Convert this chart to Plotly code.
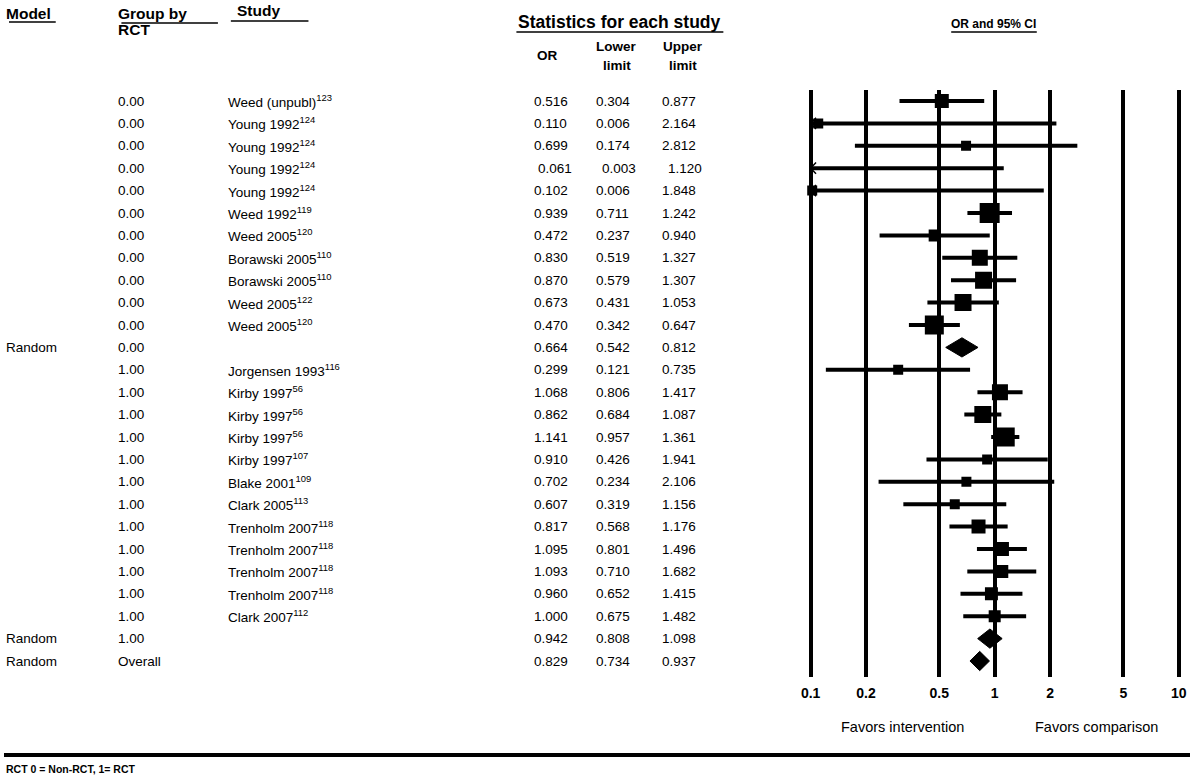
import plotly.graph_objects as go

W, H = 1192, 779

# ---------------- data ----------------
model = ["", "", "", "", "", "", "", "", "", "", "", "Random",
         "", "", "", "", "", "", "", "", "", "", "", "", "Random", "Random"]
group = ["0.00"] * 12 + ["1.00"] * 13 + ["Overall"]
study_name = ["Weed (unpubl)", "Young 1992", "Young 1992", "Young 1992", "Young 1992",
              "Weed 1992", "Weed 2005", "Borawski 2005", "Borawski 2005", "Weed 2005",
              "Weed 2005", "", "Jorgensen 1993", "Kirby 1997", "Kirby 1997", "Kirby 1997",
              "Kirby 1997", "Blake 2001", "Clark 2005", "Trenholm 2007", "Trenholm 2007",
              "Trenholm 2007", "Trenholm 2007", "Clark 2007", "", ""]
study_ref = ["123", "124", "124", "124", "124", "119", "120", "110", "110", "122",
             "120", "", "116", "56", "56", "56", "107", "109", "113", "118", "118",
             "118", "118", "112", "", ""]
odds_ratio = [0.516, 0.110, 0.699, 0.061, 0.102, 0.939, 0.472, 0.830, 0.870, 0.673,
              0.470, 0.664, 0.299, 1.068, 0.862, 1.141, 0.910, 0.702, 0.607, 0.817,
              1.095, 1.093, 0.960, 1.000, 0.942, 0.829]
lower_limit = [0.304, 0.006, 0.174, 0.003, 0.006, 0.711, 0.237, 0.519, 0.579, 0.431,
               0.342, 0.542, 0.121, 0.806, 0.684, 0.957, 0.426, 0.234, 0.319, 0.568,
               0.801, 0.710, 0.652, 0.675, 0.808, 0.734]
upper_limit = [0.877, 2.164, 2.812, 1.120, 1.848, 1.242, 0.940, 1.327, 1.307, 1.053,
               0.647, 0.812, 0.735, 1.417, 1.087, 1.361, 1.941, 2.106, 1.156, 1.176,
               1.496, 1.682, 1.415, 1.482, 1.098, 0.937]
is_summary = [False] * 11 + [True] + [False] * 12 + [True, True]
# relative study weights
rel_weight = [49, 25, 25, 25, 25, 100, 36, 64, 72, 72, 90, 0,
              25, 64, 72, 90, 25, 25, 25, 49, 49, 42, 42, 36, 0, 0]
tick_values = [0.1, 0.2, 0.5, 1, 2, 5, 10]
tick_labels = ["0.1", "0.2", "0.5", "1", "2", "5", "10"]

# ---------------- styles ----------------
FONT = "Liberation Sans, Arial, Helvetica, sans-serif"
n = len(odds_ratio)
rows = list(range(n))
ROW0_PX, ROW_STEP = 101, 22.4
PLOT_TOP, PLOT_BOT = 90, 677
XMIN_LOG, XMAX_LOG = -1.03, 1.03
DEC_PX = 185.0
x_left_px = 810.7 + (XMIN_LOG + 1) * DEC_PX
x_right_px = 1180.7 + (XMAX_LOG - 1) * DEC_PX
TXT = 13.5
PAD = 3  # annotation text starts this many px right of its anchor


def px(x):
    return x / W


def py(y):
    return 1 - y / H


y_top_val = (PLOT_TOP - ROW0_PX) / ROW_STEP
y_bot_val = (PLOT_BOT - ROW0_PX) / ROW_STEP

fig = go.Figure()

# CI lines (clipped at lowest tick)
xmin_clip = tick_values[0]
lx, ly = [], []
for i in rows:
    if is_summary[i]:
        continue
    lx += [max(lower_limit[i], xmin_clip), upper_limit[i], None]
    ly += [i, i, None]
fig.add_trace(go.Scatter(x=lx, y=ly, mode="lines", line=dict(color="black", width=4),
                         hoverinfo="skip", showlegend=False))

# arrow chevrons for truncated CIs
ax_, ay_ = [], []
for i in rows:
    if not is_summary[i] and lower_limit[i] < xmin_clip:
        ax_ += [xmin_clip * 1.07, xmin_clip, xmin_clip * 1.07, None]
        ay_ += [i - 0.25, i, i + 0.25, None]
fig.add_trace(go.Scatter(x=ax_, y=ay_, mode="lines", line=dict(color="black", width=1.5),
                         hoverinfo="skip", showlegend=False))

# study boxes
sx = [odds_ratio[i] for i in rows if not is_summary[i]]
sy = [i for i in rows if not is_summary[i]]
ss = [2 * rel_weight[i] ** 0.5 for i in rows if not is_summary[i]]
fig.add_trace(go.Scatter(x=sx, y=sy, mode="markers",
                         marker=dict(symbol="square", size=ss, color="black", opacity=1,
                                     line=dict(width=0)),
                         hoverinfo="skip", showlegend=False))

# summary diamonds
dx, dy = [], []
for i in rows:
    if is_summary[i]:
        h = 0.43
        dx += [lower_limit[i], odds_ratio[i], upper_limit[i], odds_ratio[i], lower_limit[i], None]
        dy += [i, i - h, i, i + h, i, None]
fig.add_trace(go.Scatter(x=dx, y=dy, mode="lines", fill="toself", fillcolor="black",
                         line=dict(color="black", width=1), hoverinfo="skip", showlegend=False))

fig.update_xaxes(type="log", range=[XMIN_LOG, XMAX_LOG],
                 domain=[px(x_left_px), px(x_right_px)],
                 tickvals=tick_values, ticktext=tick_labels,
                 showgrid=True, gridcolor="black", gridwidth=4,
                 showline=False, zeroline=False,
                 ticks="outside", ticklen=3, tickcolor="rgba(0,0,0,0)",
                 tickfont=dict(family=FONT, size=14, color="black", weight="bold"))
fig.update_yaxes(range=[y_bot_val, y_top_val], domain=[py(PLOT_BOT), py(PLOT_TOP)],
                 showgrid=False, zeroline=False, showline=False, showticklabels=False)

ann = []


def text(x, y, s, size=TXT, bold=False, xanchor="left", yref="paper", color="black"):
    if xanchor == "left":
        x = x - PAD
    ann.append(dict(x=px(x), y=(py(y) if yref == "paper" else y), xref="paper", yref=yref,
                    text=(f"<b>{s}</b>" if bold else s), showarrow=False,
                    xanchor=xanchor, yanchor="middle", borderpad=0, borderwidth=0,
                    font=dict(family=FONT, size=size, color=color)))


# headers
text(5, 13, "Model", size=15.5, bold=True)
text(118, 14, "Group by", size=15.5, bold=True)
text(118, 30, "RCT", size=15.5, bold=True)
text(237, 11, "Study", size=15.5, bold=True)
text(619, 22, "Statistics for each study", size=17.5, bold=True, xanchor="center")
text(546, 56, "OR", size=13.5, bold=True, xanchor="center")
text(616, 47, "Lower", size=13.5, bold=True, xanchor="center")
text(616, 65, "limit", size=13.5, bold=True, xanchor="center")
text(682, 47, "Upper", size=13.5, bold=True, xanchor="center")
text(682, 65, "limit", size=13.5, bold=True, xanchor="center")
text(995, 24, "OR and 95% CI", size=12, bold=True, xanchor="center")

# rows
for i in rows:
    if model[i]:
        text(5, i, model[i], yref="y")
    text(118, i, group[i], yref="y")
    if study_name[i]:
        text(228, i, f"{study_name[i]}<sup>{study_ref[i]}</sup>", yref="y")
    d1 = 4 if i == 3 else 0
    d2 = 6 if i == 3 else 0
    text(536 + d1, i, f"{odds_ratio[i]:.3f}", yref="y")
    text(598 + d2, i, f"{lower_limit[i]:.3f}", yref="y")
    text(664 + d2, i, f"{upper_limit[i]:.3f}", yref="y")

text(903, 727, "Favors intervention", size=14.5, xanchor="center")
text(1098, 727, "Favors comparison", size=14.5, xanchor="center")
text(5, 769, "RCT 0 = Non-RCT, 1= RCT", size=10.5, bold=True)

shapes = []


def hline(x0, x1, y, w=1.3):
    shapes.append(dict(type="line", xref="paper", yref="paper", x0=px(x0), x1=px(x1),
                       y0=py(y), y1=py(y), line=dict(color="black", width=w)))


hline(5, 52, 22)
hline(118, 215, 23)
hline(228, 306, 21)
hline(515, 723, 32)
hline(952, 1038, 32)
hline(0, W, 755, w=4)

fig.update_layout(width=W, height=H, margin=dict(l=0, r=0, t=0, b=0),
                  paper_bgcolor="white", plot_bgcolor="white",
                  annotations=ann, shapes=shapes, showlegend=False)

# remove the page's default 8px body margin so the figure fills the window
fig.write_html("out.html", config={"displayModeBar": False, "staticPlot": True},
               post_script="document.body.style.margin='0px';document.body.style.overflow='hidden';")
